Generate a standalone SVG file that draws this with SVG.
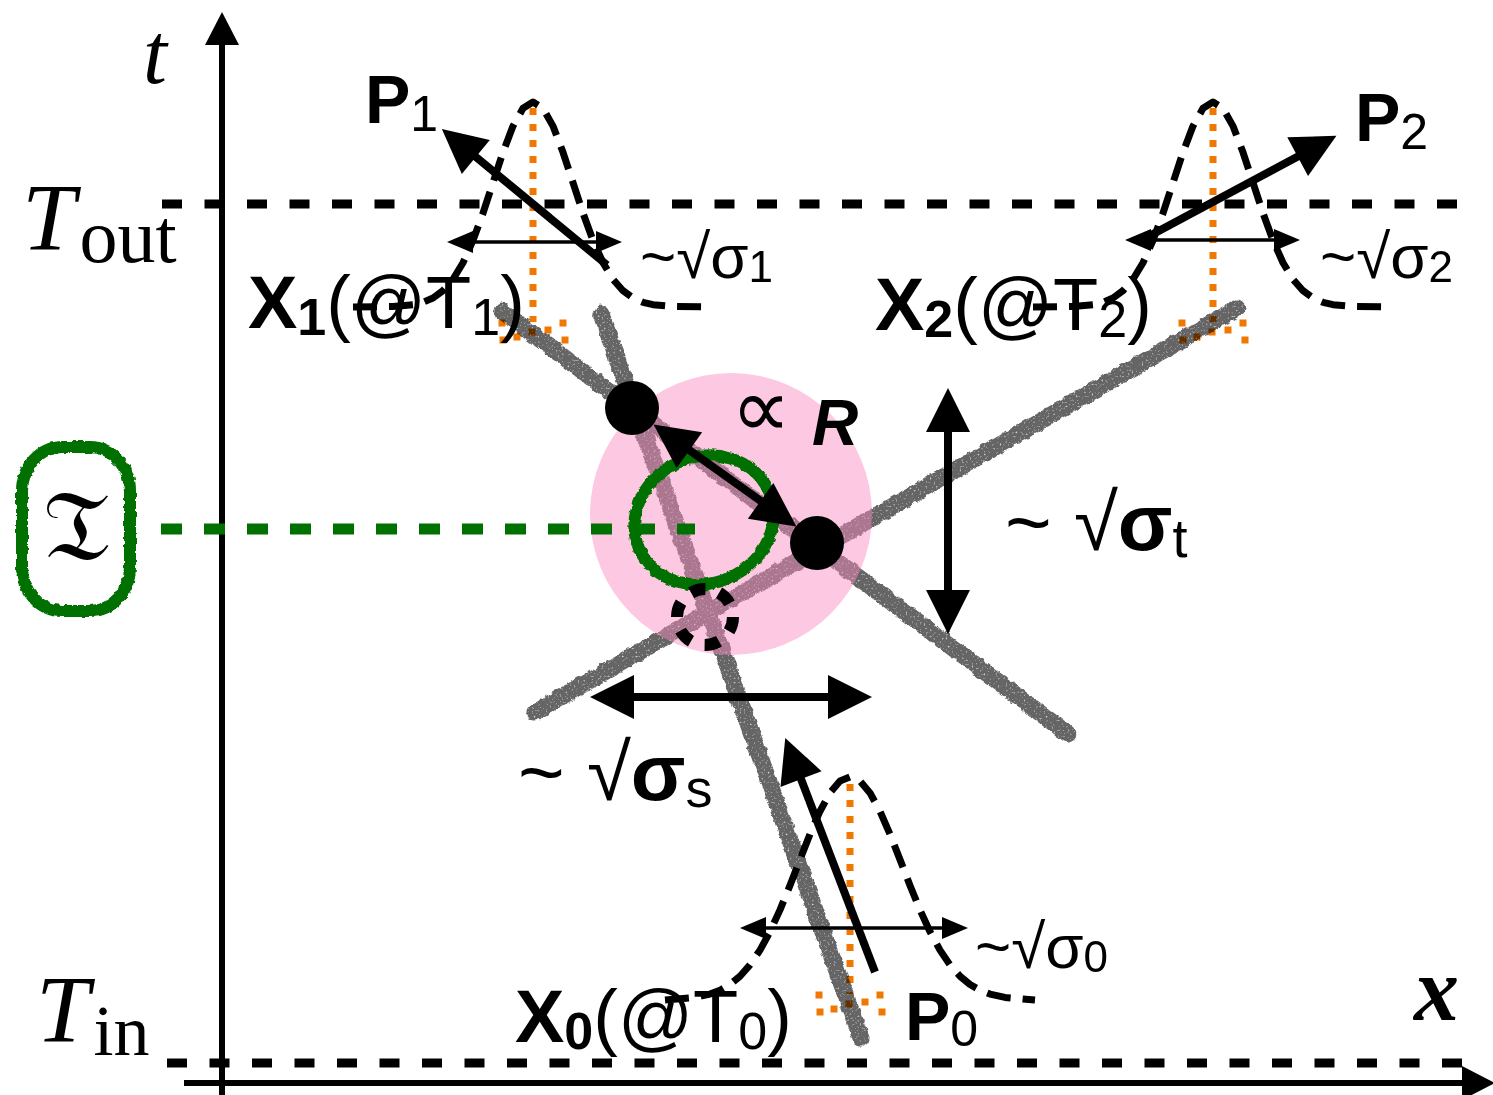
<svg xmlns="http://www.w3.org/2000/svg" width="1493" height="1095" viewBox="0 0 1493 1095">
<style>
.hdash{fill:none;stroke:#000;stroke-width:9;stroke-dasharray:20 22.5}
.gauss{fill:none;stroke:#000;stroke-width:7;stroke-dasharray:24 12;stroke-linejoin:round}
.odot{fill:none;stroke:#f07800;stroke-width:7;stroke-dasharray:7 9}
.orect{fill:#f07800}
.grey{fill:none;stroke:#000;stroke-width:17;stroke-linecap:round}
.green{fill:none;stroke:#007000;stroke-width:12}
.big{fill:none;stroke:#000;stroke-width:8;marker-end:url(#ah)}
.big2{fill:none;stroke:#000;stroke-width:8;marker-start:url(#ah);marker-end:url(#ah)}
.thin{fill:none;stroke:#000;stroke-width:3.5;marker-start:url(#as);marker-end:url(#as)}
.axis{fill:none;stroke:#000;stroke-width:6;marker-end:url(#aa)}
text{font-family:"Liberation Sans",Arial,sans-serif;fill:#000}
.serif{font-family:"Liberation Serif","Times New Roman",serif}
</style>
<defs>
<marker id="ah" markerUnits="userSpaceOnUse" markerWidth="60" markerHeight="60" refX="14" refY="0" orient="auto-start-reverse" overflow="visible"><path d="M0,-22 L44,0 L0,22 Z" fill="#000"/></marker>
<marker id="as" markerUnits="userSpaceOnUse" markerWidth="30" markerHeight="30" refX="8" refY="0" orient="auto-start-reverse" overflow="visible"><path d="M0,-11 L26,0 L0,11 Z" fill="#000"/></marker>
<marker id="aa" markerUnits="userSpaceOnUse" markerWidth="40" markerHeight="40" refX="8" refY="0" orient="auto-start-reverse" overflow="visible"><path d="M0,-17 L33,0 L0,17 Z" fill="#000"/></marker>
<filter id="chalk" x="-5%" y="-5%" width="110%" height="110%">
<feTurbulence type="fractalNoise" baseFrequency="0.15" numOctaves="3" seed="2" result="n"/>
<feDisplacementMap in="SourceGraphic" in2="n" scale="5" xChannelSelector="R" yChannelSelector="G" result="d"/>
<feTurbulence type="fractalNoise" baseFrequency="0.5" numOctaves="1" seed="5" result="n2"/>
<feColorMatrix in="n2" type="matrix" values="0 0 0 0 0  0 0 0 0 0  0 0 0 0 0  0 0 0 -3 2.8" result="m"/>
<feComposite in="d" in2="m" operator="in"/>
</filter>
<filter id="rough" x="-5%" y="-5%" width="110%" height="110%">
<feTurbulence type="fractalNoise" baseFrequency="0.2" numOctaves="2" seed="7" result="n"/>
<feDisplacementMap in="SourceGraphic" in2="n" scale="4" xChannelSelector="R" yChannelSelector="G"/>
</filter>
<path id="g1" d="M-180,0 L-140,-0.5 L-120,-2.3 L-110,-4.7 L-100,-9 L-90,-16.3 L-80,-27.7 L-70,-44.3 L-60,-66.6 L-50,-93.9 L-40,-124.3 L-30,-154.7 L-20,-180.9 L-10,-198.7 L0,-205 L10,-198.7 L20,-180.9 L30,-154.7 L40,-124.3 L50,-93.9 L60,-66.6 L70,-44.3 L80,-27.7 L90,-16.3 L100,-9 L110,-4.7 L120,-2.3 L140,-0.5 L180,0"/>
<path id="g0" d="M-185,0 L-155,-2.6 L-140,-5.9 L-130,-9.8 L-120,-15.5 L-110,-23.8 L-100,-35.1 L-90,-49.9 L-80,-68.3 L-70,-90.1 L-60,-114.6 L-50,-140.4 L-40,-165.9 L-30,-188.8 L-20,-207.1 L-10,-218.9 L0,-223 L10,-218.9 L20,-207.1 L30,-188.8 L40,-165.9 L50,-140.4 L60,-114.6 L70,-90.1 L80,-68.3 L90,-49.9 L100,-35.1 L110,-23.8 L120,-15.5 L130,-9.8 L140,-5.9 L155,-2.6 L185,0"/>
<g id="om" class="orect">
<rect x="-34.5" y="-10.5" width="7" height="7"/><rect x="-33.5" y="6.5" width="7" height="7"/>
<rect x="-19.5" y="3.5" width="7" height="7"/><rect x="-4.5" y="-1.5" width="7" height="7"/>
<rect x="11.5" y="-3.5" width="7" height="7"/><rect x="26.5" y="-10.5" width="7" height="7"/>
<rect x="28.5" y="6.5" width="7" height="7"/>
</g>
</defs>
<rect width="1493" height="1095" fill="#fff"/>

<g id="axes">
<line class="hdash" x1="162" y1="204" x2="1466" y2="204"/>
<line class="hdash" x1="167" y1="1063" x2="1468" y2="1063"/>
<line class="axis" x1="222" y1="1095" x2="222" y2="37"/>
<line class="axis" x1="184" y1="1083" x2="1470" y2="1083"/>
<text class="serif" x="143" y="83" font-size="86" font-style="italic">t</text>
<text class="serif" x="22" y="250" font-size="96"><tspan font-style="italic">T</tspan><tspan font-size="76" dx="4" dy="12">out</tspan></text>
<text class="serif" x="36" y="1042" font-size="96"><tspan font-style="italic">T</tspan><tspan font-size="72" dx="4" dy="13">in</tspan></text>
<text class="serif" x="1414" y="1020" font-size="90" font-weight="bold" font-style="italic">x</text>
</g>

<g id="dist1">
<use href="#g1" class="gauss" transform="translate(533,307)"/>
<line class="odot" x1="533" y1="108" x2="533" y2="322"/>
<use href="#om" x="533" y="330"/>
</g>
<g id="dist2">
<use href="#g1" class="gauss" transform="translate(1213,307)"/>
<line class="odot" x1="1213" y1="108" x2="1213" y2="322"/>
<use href="#om" x="1213" y="330"/>
</g>
<g id="dist0">
<use href="#g0" class="gauss" transform="translate(850,1000)"/>
<line class="odot" x1="850" y1="784" x2="850" y2="994"/>
<use href="#om" x="850" y="1002"/>
</g>

<g id="tracks" opacity="0.6" filter="url(#chalk)">
<line class="grey" x1="502" y1="311" x2="1068" y2="734"/>
<line class="grey" x1="1237" y1="308" x2="535" y2="712"/>
<line class="grey" x1="601" y1="314" x2="861" y2="1038"/>
</g>

<g id="vertex-region">
<circle cx="731" cy="514" r="141" fill="rgb(251,138,191)" fill-opacity="0.47"/>
</g>

<g id="tau">
<line x1="161" y1="529" x2="695" y2="529" stroke="#007000" stroke-width="11" stroke-dasharray="21 22"/>
<g filter="url(#rough)">
<ellipse class="green" cx="704" cy="520" rx="71" ry="63" transform="rotate(-25 704 520)"/>
<rect class="green" x="22" y="447" width="108" height="164" rx="40" ry="44"/>
</g>
<text x="76" y="560" text-anchor="middle" font-size="100" style="font-family:'DejaVu Serif','DejaVu Sans','Noto Sans',serif">𝔗</text>
</g>

<g id="connectors">
<line class="big" x1="607" y1="265" x2="465" y2="148"/>
<line class="big" x1="1140" y1="241" x2="1310" y2="150"/>
<line class="big" x1="875" y1="972" x2="796" y2="766"/>
<line class="big2" x1="678" y1="442" x2="772" y2="509"/>
<line class="big2" x1="948" y1="418" x2="948" y2="604"/>
<line class="big2" x1="620" y1="697" x2="842" y2="697"/>
<line class="thin" x1="465" y1="242" x2="604" y2="242"/>
<line class="thin" x1="1143" y1="240" x2="1282" y2="240"/>
<line class="thin" x1="758" y1="928" x2="950" y2="928"/>
</g>

<g id="vertices">
<circle cx="632" cy="408" r="27" fill="#000"/>
<circle cx="817" cy="543" r="27" fill="#000"/>
<circle cx="705" cy="617" r="28" fill="none" stroke="#000" stroke-width="12" stroke-dasharray="15 14.3"/>
</g>

<g id="labels">
<text x="365" y="123"><tspan font-weight="bold" font-size="68">P</tspan><tspan font-size="50" dy="8">1</tspan></text>
<text x="1355" y="141"><tspan font-weight="bold" font-size="68">P</tspan><tspan font-size="50" dy="8">2</tspan></text>
<text x="905" y="1040"><tspan font-weight="bold" font-size="68">P</tspan><tspan font-size="50" dy="6">0</tspan></text>
<text x="248" y="328" font-size="74"><tspan font-weight="bold">X</tspan><tspan font-weight="bold" font-size="52" dy="7">1</tspan><tspan dy="-7">(@T</tspan><tspan font-size="52" dy="7">1</tspan><tspan dy="-7">)</tspan></text>
<text x="875" y="330" font-size="74"><tspan font-weight="bold">X</tspan><tspan font-weight="bold" font-size="52" dy="7">2</tspan><tspan dy="-7">(@T</tspan><tspan font-size="52" dy="7">2</tspan><tspan dy="-7">)</tspan></text>
<text x="515" y="1042" font-size="74"><tspan font-weight="bold">X</tspan><tspan font-weight="bold" font-size="52" dy="7">0</tspan><tspan dy="-7">(@T</tspan><tspan font-size="52" dy="7">0</tspan><tspan dy="-7">)</tspan></text>
<text x="640" y="278" font-size="62">~√σ<tspan font-size="44" dy="4">1</tspan></text>
<text x="1320" y="278" font-size="62">~√σ<tspan font-size="44" dy="4">2</tspan></text>
<text x="975" y="968" font-size="62">~√σ<tspan font-size="44" dy="4">0</tspan></text>
<text x="1005" y="550" font-size="80">~ √<tspan font-weight="bold">σ</tspan><tspan font-size="54" dy="7">t</tspan></text>
<text x="518" y="800" font-size="80">~ √<tspan font-weight="bold">σ</tspan><tspan font-size="54" dy="7">s</tspan></text>
<text x="731" y="437" font-size="84" style="font-family:'DejaVu Sans',sans-serif">∝</text>
<text x="812" y="445" font-size="64" font-weight="bold" font-style="italic">R</text>
</g>
</svg>
